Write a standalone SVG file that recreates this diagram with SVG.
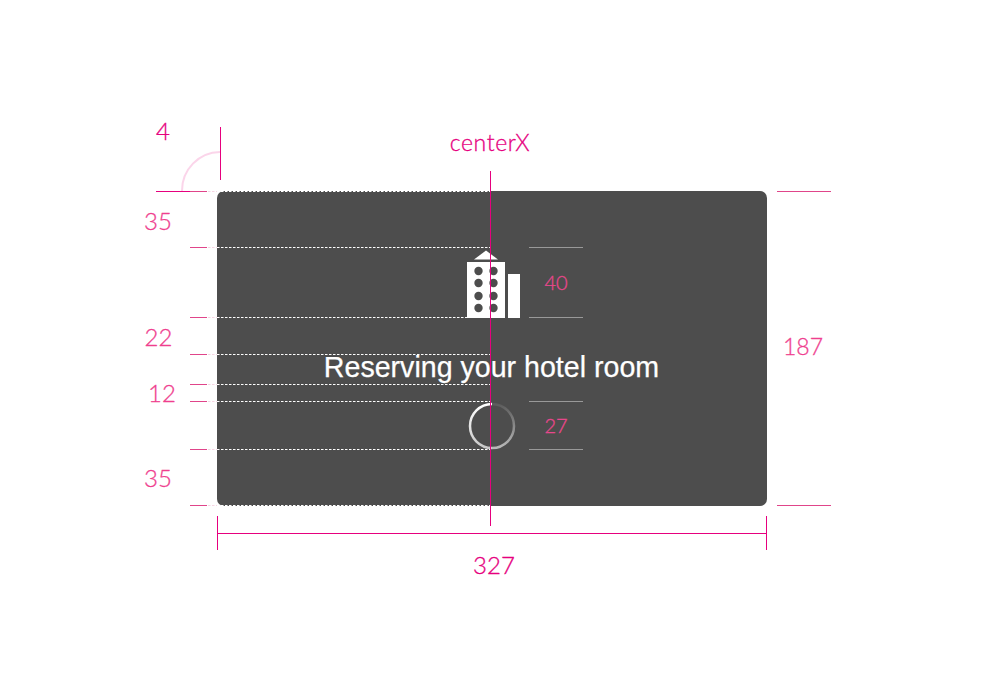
<svg xmlns="http://www.w3.org/2000/svg" width="982" height="698" viewBox="0 0 982 698">
<style>
.m{stroke:#e6007e;stroke-width:1;fill:none}
.p{stroke:#e0458a;stroke-width:1;fill:none}
.d{stroke:#fff;stroke-width:1;stroke-dasharray:2.5 1.5;fill:none}
.f{stroke:#f6d5e3;stroke-width:1;stroke-dasharray:2.5 1.5;fill:none}
.g{stroke:#999;stroke-width:1;fill:none}
.t{font-family:"Lato","Open Sans",sans-serif;font-weight:300;font-size:24px;text-anchor:middle;fill:#ef3f8f;stroke:#ef3f8f;stroke-width:.3}
.s{font-family:"Lato","Open Sans",sans-serif;font-weight:300;font-size:20px;text-anchor:middle;fill:#e8478c;stroke:#e8478c;stroke-width:.3}
</style>
<defs>
<linearGradient id="r1" gradientUnits="userSpaceOnUse" x1="492" y1="404" x2="492" y2="448"><stop offset="0" stop-color="#fff"/><stop offset="1" stop-color="#c8c8c8"/></linearGradient>
<linearGradient id="r2" gradientUnits="userSpaceOnUse" x1="492" y1="448" x2="492" y2="404"><stop offset="0" stop-color="#b8b8b8"/><stop offset="1" stop-color="#5c5c5c"/></linearGradient>
</defs>
<g id="card"><rect x="217" y="191" width="550" height="315" rx="7" fill="#4d4d4d"/></g>
<g id="guides">
<path class="d" d="M217 191.500H490M217 247.500H490M217 317.500H490M217 354.500H490M217 384.500H490M217 401.500H490M217 449.500H490M217 505.500H490"/>
<path class="f" d="M208 191.500H217M208 247.500H217M208 317.500H217M208 354.500H217M208 384.500H217M208 401.500H217M208 449.500H217M208 505.500H217"/>
</g>
<g id="icon">
<path d="M474 259.500L486 250.500L498 259.500Z" fill="#fff"/>
<rect x="467" y="262" width="38" height="56" fill="#fff"/>
<rect x="508" y="274" width="12" height="44" fill="#fff"/>
<g fill="#4d4d4d">
<circle cx="478.500" cy="271" r="4.200"/><circle cx="493.500" cy="271" r="4.200"/>
<circle cx="478.500" cy="283" r="4.200"/><circle cx="493.500" cy="283" r="4.200"/>
<circle cx="478.500" cy="296" r="4.200"/><circle cx="493.500" cy="296" r="4.200"/>
<circle cx="478.500" cy="308" r="4.200"/><circle cx="493.500" cy="308" r="4.200"/>
</g>
</g>
<g id="title"><text x="491.500" y="377" font-family="'Liberation Sans',Arial,sans-serif" font-size="28.600" fill="#fff" stroke="#fff" stroke-width=".25" text-anchor="middle">Reserving your hotel room</text></g>
<g id="spinner">
<path d="M492 404A22 22 0 0 0 492 448" fill="none" stroke="url(#r1)" stroke-width="2.500"/>
<path d="M492 448A22 22 0 0 0 492 404" fill="none" stroke="url(#r2)" stroke-width="2.500"/>
</g>
<g id="connectors">
<path class="m" d="M490.500 171V526"/>
<path class="g" d="M529 247.500H583M529 317.500H583M529 401.500H583M529 449.500H583"/>
<path class="p" d="M190 191.500H207M190 247.500H207M190 317.500H207M190 354.500H207M190 384.500H207M190 401.500H207M190 449.500H207M190 505.500H207"/>
<path class="p" d="M777 191.500H831M777 505.500H831"/>
<path class="m" d="M156 191.500H190M220.500 127V180M217.500 516V550M766.500 516V550M217 533.500H767"/>
<path d="M182 191A38.500 38.500 0 0 1 220 152" fill="none" stroke="#fbd5ea" stroke-width="2"/>
</g>
<g id="labels">
<text class="t" x="163" y="140" style="fill:#e6007e;stroke:#e6007e">4</text>
<text x="490" y="151" font-family="Lato,'Open Sans',sans-serif" font-weight="300" font-size="23px" letter-spacing=".6" fill="#e6007e" stroke="#e6007e" stroke-width=".3" text-anchor="middle">centerX</text>
<text class="t" x="158" y="230">35</text>
<text class="t" x="158.500" y="346">22</text>
<text class="t" x="162" y="402">12</text>
<text class="t" x="158" y="487">35</text>
<text class="t" x="803" y="355" style="font-size:23px">187</text>
<text class="t" x="494" y="574" style="fill:#e6007e;stroke:#e6007e">327</text>
<text class="s" x="556" y="290">40</text>
<text class="s" x="556" y="433">27</text>
</g>
</svg>
